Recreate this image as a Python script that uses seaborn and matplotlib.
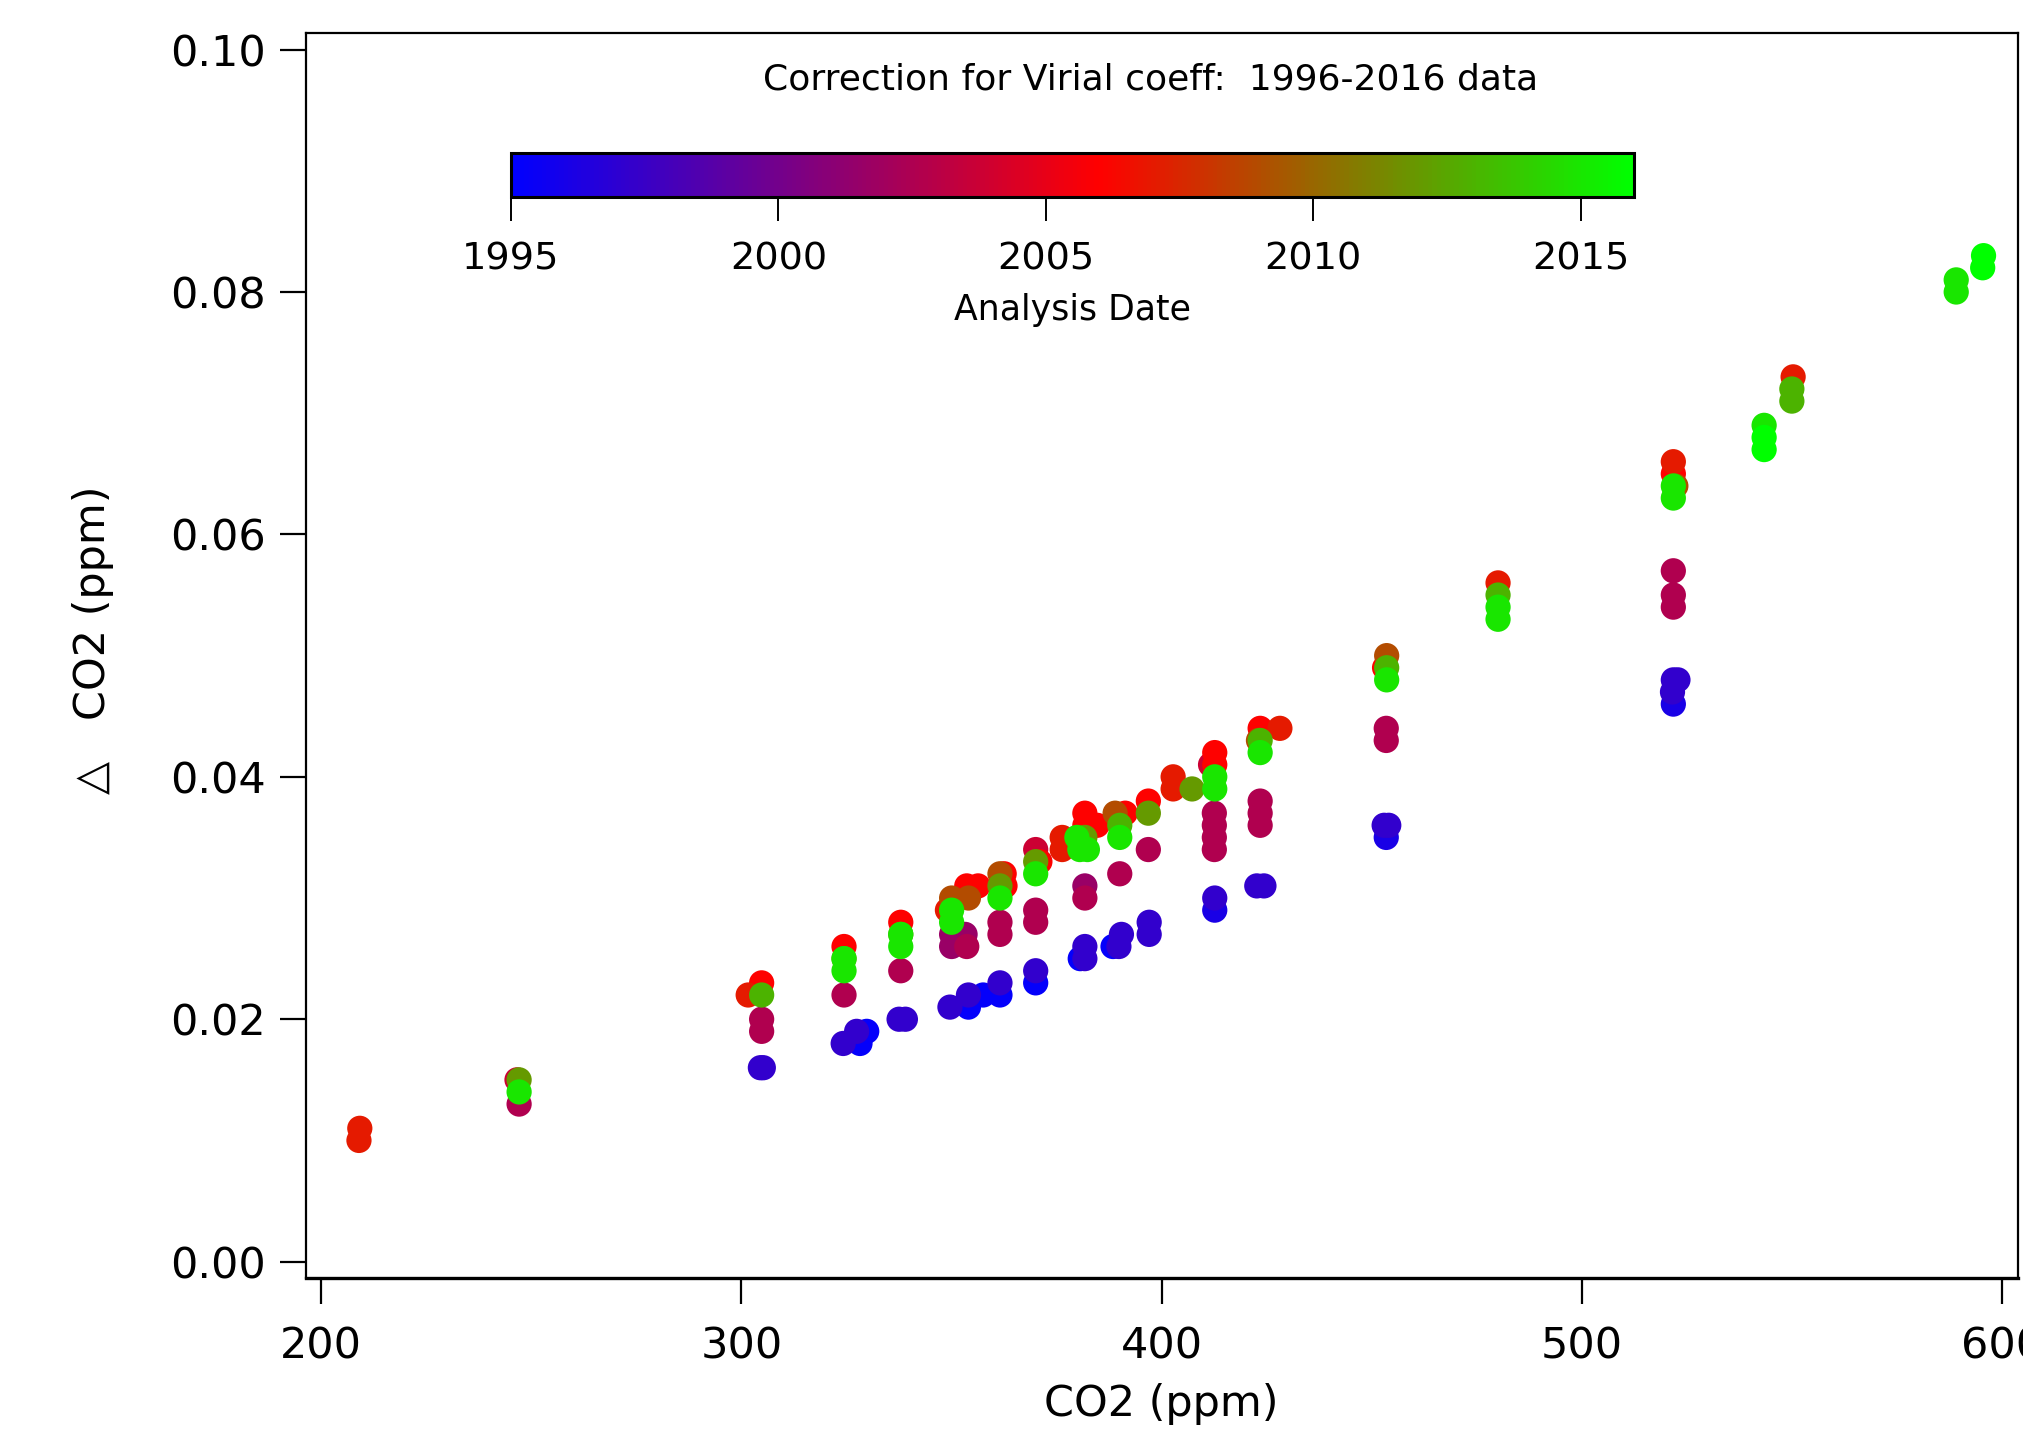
import numpy as np
import pandas as pd
import matplotlib
matplotlib.use("Agg")
import matplotlib.pyplot as plt
import seaborn as sns
from matplotlib.colors import LinearSegmentedColormap, Normalize
from matplotlib.cm import ScalarMappable

# ---- data ----
co2 = [209.2, 209.0,
       246.6, 247.1, 247.1, 247.1,
       301.6, 304.8, 304.8, 304.8, 304.8, 304.5, 305.2,
       324.4, 324.4, 324.4, 324.4, 324.4, 328.2, 329.8, 324.2, 327.4,
       337.9, 337.9, 337.9, 337.9, 337.9, 337.5, 339.0,
       349.0, 350.0, 354.0, 353.6, 356.3, 350.0, 350.0, 350.0, 350.0, 353.2, 353.6, 349.6, 354.0, 354.0, 357.5,
       362.5, 361.5, 362.7, 361.5, 361.5, 361.5, 361.5, 361.5, 361.5,
       370.0, 371.0, 370.0, 370.0, 370.0, 370.0, 370.0, 370.0,
       376.3, 376.3,
       381.7, 381.7, 384.6, 381.7, 379.8, 380.5, 382.3, 381.7, 381.7, 381.7, 381.7, 380.6,
       388.9, 391.3, 390.0, 390.0, 390.0, 390.4, 389.8, 388.4,
       396.8, 396.8, 396.8, 397.0, 397.0,
       402.7, 402.7, 407.2,
       412.6, 412.6, 411.6, 412.6, 412.6, 412.5, 412.5, 412.5, 412.5, 412.6, 412.6,
       423.4, 428.1, 423.0, 423.4, 423.4, 423.4, 423.4, 423.4, 422.6, 424.3,
       453.5, 453.0, 453.5, 453.5, 453.4, 453.4, 452.9, 454.0, 453.4,
       480.0, 480.0, 480.0, 480.0,
       521.7, 521.7, 522.3, 521.7, 521.7, 521.7, 521.7, 521.7, 521.7, 522.8, 521.5, 521.7,
       543.3, 543.3, 543.3,
       550.2, 549.9, 549.9,
       589.0, 589.0,
       595.5, 595.3]

delta_co2 = [0.011, 0.010,
             0.015, 0.015, 0.014, 0.013,
             0.022, 0.023, 0.022, 0.020, 0.019, 0.016, 0.016,
             0.026, 0.025, 0.025, 0.024, 0.022, 0.018, 0.019, 0.018, 0.019,
             0.028, 0.027, 0.027, 0.026, 0.024, 0.020, 0.020,
             0.029, 0.030, 0.030, 0.031, 0.031, 0.029, 0.028, 0.027, 0.026, 0.027, 0.026, 0.021, 0.022, 0.021, 0.022,
             0.032, 0.032, 0.031, 0.031, 0.030, 0.028, 0.027, 0.023, 0.022,
             0.034, 0.033, 0.033, 0.032, 0.029, 0.028, 0.024, 0.023,
             0.035, 0.034,
             0.037, 0.036, 0.036, 0.035, 0.035, 0.034, 0.034, 0.031, 0.030, 0.026, 0.025, 0.025,
             0.037, 0.037, 0.036, 0.035, 0.032, 0.027, 0.026, 0.026,
             0.038, 0.037, 0.034, 0.028, 0.027,
             0.040, 0.039, 0.039,
             0.042, 0.041, 0.041, 0.040, 0.039, 0.037, 0.036, 0.035, 0.034, 0.030, 0.029,
             0.044, 0.044, 0.043, 0.043, 0.042, 0.038, 0.037, 0.036, 0.031, 0.031,
             0.050, 0.049, 0.049, 0.048, 0.044, 0.043, 0.036, 0.036, 0.035,
             0.056, 0.055, 0.054, 0.053,
             0.066, 0.065, 0.064, 0.064, 0.063, 0.057, 0.055, 0.054, 0.048, 0.048, 0.047, 0.046,
             0.069, 0.068, 0.067,
             0.073, 0.072, 0.071,
             0.081, 0.080,
             0.083, 0.082]

analysis_year = [2007.0, 2007.0,
                 2003.8, 2012.0, 2015.0, 2002.6,
                 2007.0, 2006.0, 2013.0, 2002.6, 2002.6, 1997.2, 1997.2,
                 2006.0, 2012.0, 2015.0, 2015.0, 2002.6, 1995.2, 1995.2, 1997.2, 1997.2,
                 2006.0, 2012.0, 2015.0, 2015.0, 2002.6, 1997.2, 1997.2,
                 2007.0, 2009.0, 2009.0, 2006.0, 2006.0, 2015.0, 2015.0, 2001.6, 2001.6, 2001.6, 2002.6, 1997.2, 1997.2, 1995.2, 1995.2,
                 2006.0, 2009.0, 2006.0, 2012.0, 2015.0, 2002.6, 2002.6, 1997.2, 1995.2,
                 2003.8, 2006.0, 2012.0, 2015.0, 2002.6, 2002.6, 1997.2, 1995.2,
                 2007.0, 2007.0,
                 2006.0, 2006.0, 2006.0, 2012.0, 2015.0, 2015.0, 2015.0, 2001.6, 2002.6, 1997.2, 1997.2, 1995.2,
                 2009.0, 2006.0, 2013.0, 2015.0, 2002.6, 1997.2, 1997.2, 1995.2,
                 2006.0, 2012.0, 2002.6, 1997.2, 1997.2,
                 2007.0, 2007.0, 2012.0,
                 2006.0, 2006.0, 2003.8, 2015.0, 2015.0, 2002.6, 2002.6, 2002.6, 2002.6, 1997.2, 1996.1,
                 2006.0, 2007.0, 2009.0, 2013.0, 2015.0, 2002.6, 2002.6, 2002.6, 1997.2, 1997.2,
                 2009.0, 2006.0, 2013.0, 2015.0, 2002.6, 2002.6, 1997.2, 1997.2, 1996.1,
                 2007.0, 2013.0, 2015.0, 2015.0,
                 2007.0, 2006.0, 2009.0, 2015.0, 2015.0, 2002.6, 2002.6, 2002.6, 1997.2, 1997.2, 1997.2, 1996.1,
                 2015.0, 2016.0, 2016.0,
                 2007.0, 2013.0, 2013.0,
                 2015.0, 2015.0,
                 2016.0, 2016.0]

x_ticks = [200, 300, 400, 500, 600]
y_ticks = [0.00, 0.02, 0.04, 0.06, 0.08, 0.10]
cbar_ticks = [1995, 2000, 2005, 2010, 2015]
year_range = (1995, 2016)

df = pd.DataFrame({"co2": co2, "delta": delta_co2, "year": analysis_year})
df = df.sort_values("year", kind="stable").reset_index(drop=True)

# colour scale: blue -> red (2006) -> green
red_frac = (2006 - year_range[0]) / (year_range[1] - year_range[0])
cmap = LinearSegmentedColormap.from_list(
    "date", [(0.0, "#0000ff"), (red_frac, "#ff0000"), (1.0, "#00ff00")])
norm = Normalize(*year_range)

sns.set_style("white")
plt.rcParams["font.family"] = ["DejaVu Sans"]
plt.rcParams.update({"text.color": "black", "axes.labelcolor": "black",
                     "xtick.color": "black", "ytick.color": "black",
                     "axes.edgecolor": "black"})

W, H = 2023, 1437
fig = plt.figure(figsize=(W / 100, H / 100), dpi=100)
L, R, T, B = 306, 2018, 33, 1278
ax = fig.add_axes([L / W, 1 - B / H, (R - L) / W, (B - T) / H])

sns.scatterplot(data=df, x="co2", y="delta", hue="year", palette=cmap,
                hue_norm=norm, s=330, linewidth=0, legend=False, ax=ax)

ax.set_xlim(196.4, 603.7)
ax.set_ylim(-0.00135, 0.10137)
ax.set_xticks(x_ticks)
ax.set_yticks(y_ticks)
ax.set_xticklabels([str(v) for v in x_ticks])
ax.set_yticklabels([f"{v:.2f}" for v in y_ticks])
ax.tick_params(axis="both", direction="out", length=19, width=1.6,
               labelsize=31, color="black", labelcolor="black",
               bottom=True, left=True, top=False, right=False)
ax.tick_params(axis="x", pad=15)
ax.tick_params(axis="y", pad=10)
for sp in ax.spines.values():
    sp.set_visible(True)
    sp.set_color("black")
    sp.set_linewidth(1.6)
ax.spines["bottom"].set_linewidth(2.4)

ax.set_xlabel("CO2 (ppm)", fontsize=31, color="black")
ax.set_ylabel("△   CO2 (ppm)", fontsize=31, color="black")
ax.xaxis.label.set_va("center")
ax.yaxis.label.set_va("center")
ax.xaxis.set_label_coords((1161 - L) / (R - L), (B - 1404) / (B - T))
ax.yaxis.set_label_coords((93 - L) / (R - L), (B - 640) / (B - T))

# colour bar
cx0, cx1, cy0, cy1 = 511, 1634, 153, 197
cax = fig.add_axes([cx0 / W, 1 - cy1 / H, (cx1 - cx0) / W, (cy1 - cy0) / H])
sm = ScalarMappable(norm=norm, cmap=cmap)
cb = fig.colorbar(sm, cax=cax, orientation="horizontal")
cb.set_ticks(cbar_ticks)
cb.set_ticklabels([str(t) for t in cbar_ticks])
cb.outline.set_linewidth(2.2)
cb.outline.set_edgecolor("black")
cax.tick_params(axis="x", direction="out", length=17, width=1.4, bottom=True,
                labelsize=27.5, pad=15, color="black", labelcolor="black")
cax.set_xlabel("Analysis Date", fontsize=25, labelpad=11, color="black")

fig.text(1151 / W, 1 - 80 / H, "Correction for Virial coeff:  1996-2016 data",
         ha="center", va="center", fontsize=26, color="black")

fig.savefig("out.png", dpi=100)
